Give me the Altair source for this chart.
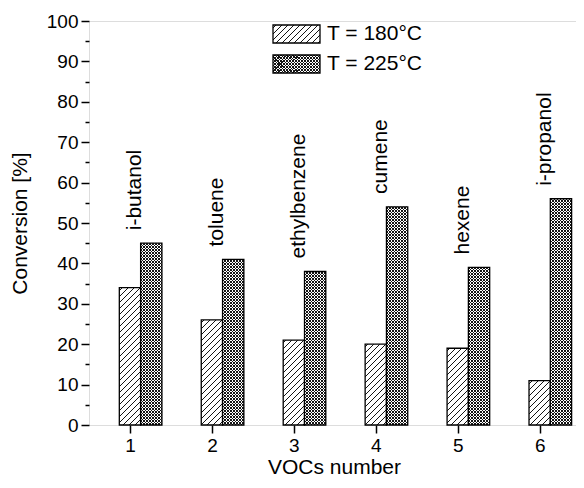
import math
import altair as alt
import pandas as pd

# ---- data ----
vocs = [1, 2, 3, 4, 5, 6]
names = ["i-butanol", "toluene", "ethylbenzene", "cumene", "hexene", "i-propanol"]
conv_180 = [34, 26, 21, 20, 19, 11]
conv_225 = [45, 41, 38, 54, 39, 56]
series_labels = ["T = 180°C", "T = 225°C"]
x_ticks = [1, 2, 3, 4, 5, 6]
y_ticks = list(range(0, 101, 5))

# ---- layout ----
W, H = 487, 404          # view size (box)
XRANGE = 490             # x scale pixel range
XMIN, XMAX = 0.5, 6.48
YMIN, YMAX = 0, 100
BW = 0.26
FONT = "Liberation Sans"
PX_X = XRANGE / (XMAX - XMIN)
PX_Y = H / (YMAX - YMIN)
INK = "#141414"
SQ2 = math.sqrt(2)
P_SINGLE = 6 / SQ2   # 6 px horizontal repeat
P_CROSS = 3 / SQ2    # 3 px horizontal repeat
LW = 1 / SQ2         # exactly one pixel per row


def hatch(w, h, period, lw, bg, direction):
    """Linear gradient with hard stops that draws 45-degree stripes."""
    k = (w + h) / (w * w + h * h)
    D = (w + h) / SQ2
    n = D / period
    f = lw / period
    stops = [{"offset": 0, "color": bg}]
    i = 0
    while True:
        s = (i + 0.5 - f / 2) / n
        e = (i + 0.5 + f / 2) / n
        if s >= 1:
            break
        e = min(e, 1.0)
        stops += [
            {"offset": round(s, 7), "color": bg},
            {"offset": round(s, 7), "color": INK},
            {"offset": round(e, 7), "color": INK},
            {"offset": round(e, 7), "color": bg},
        ]
        i += 1
    if direction == "/":
        return {"gradient": "linear", "x1": 0, "y1": 0,
                "x2": round(k * w, 7), "y2": round(k * h, 7), "stops": stops}
    return {"gradient": "linear", "x1": 0, "y1": 1,
            "x2": round(k * w, 7), "y2": round(1 - k * h, 7), "stops": stops}


rows = []
for n, name, a, b in zip(vocs, names, conv_180, conv_225):
    rows.append({"n": n, "name": name, "series": "180", "value": a, "top225": b})
    rows.append({"n": n, "name": name, "series": "225", "value": b, "top225": b})
df = pd.DataFrame(rows)

x_axis = alt.Axis(values=x_ticks, format="d", tickSize=8, tickWidth=1.5, tickColor="black",
                  labelFontSize=19, labelColor="black", labelFont=FONT, labelPadding=3,
                  titleFontSize=21, titleFont=FONT, titleFontWeight="normal", titleColor="black",
                  titlePadding=1, domain=False, grid=False)
y_axis = alt.Axis(values=y_ticks,
                  tickSize={"condition": {"test": "datum.value % 10 === 0", "value": 8}, "value": 4},
                  labelExpr="datum.value % 10 === 0 ? datum.label : ''",
                  tickWidth=1.5, tickColor="black",
                  labelFontSize=19, labelColor="black", labelFont=FONT, labelPadding=3,
                  titleFontSize=21, titleFont=FONT, titleFontWeight="normal", titleColor="black",
                  titlePadding=16, domain=False, grid=False)


def xenc(field):
    return alt.X(f"{field}:Q",
                 scale=alt.Scale(domain=[XMIN, XMAX], range=[0, XRANGE], nice=False, zero=False),
                 axis=x_axis, title="VOCs number")


def yenc(field):
    return alt.Y(f"{field}:Q", scale=alt.Scale(domain=[YMIN, YMAX], nice=False),
                 axis=y_axis, title="Conversion [%]")


base = alt.Chart(df).transform_calculate(
    x0=f"datum.n - {BW / 2} + (datum.series == '225' ? {BW} : 0)",
    x1=f"datum.n + {BW / 2} + (datum.series == '225' ? {BW} : 0)",
)

layers = []
bw_px = BW * PX_X
for n, a, b in zip(vocs, conv_180, conv_225):
    # 180 °C bar: single diagonal hatch
    g = hatch(bw_px, a * PX_Y, P_SINGLE, LW, "white", "/")
    layers.append(
        base.transform_filter(f"datum.n == {n} && datum.series == '180'")
        .mark_bar(fill=g, stroke="black", strokeWidth=1.3)
        .encode(x=xenc("x0"), x2="x1:Q", y=yenc("value"), y2=alt.datum(0))
    )
    # 225 °C bar: cross hatch (two layers)
    g1 = hatch(bw_px, b * PX_Y, P_CROSS, LW, "white", "/")
    g2 = hatch(bw_px, b * PX_Y, P_CROSS, LW, "rgba(255,255,255,0)", "\\")
    flt = f"datum.n == {n} && datum.series == '225'"
    layers.append(
        base.transform_filter(flt).mark_bar(fill=g1, strokeWidth=0)
        .encode(x=xenc("x0"), x2="x1:Q", y=yenc("value"), y2=alt.datum(0))
    )
    layers.append(
        base.transform_filter(flt).mark_bar(fill=g2, stroke="black", strokeWidth=1.3)
        .encode(x=xenc("x0"), x2="x1:Q", y=yenc("value"), y2=alt.datum(0))
    )

# compound names above the bars
labels = (
    base.transform_filter("datum.series == '225'")
    .transform_calculate(lx="datum.n + 0.06", ly="datum.top225 + 3.2")
    .mark_text(angle=270, align="left", baseline="middle", fontSize=21, font=FONT, color="black")
    .encode(x=xenc("lx"), y=yenc("ly"), text="name:N")
)
layers.append(labels)

# manual legend
leg = alt.Chart(pd.DataFrame({"t": [0]}))
sw_w, sw_h = 47, 18
layers.append(
    leg.mark_rect(fill=hatch(sw_w, sw_h, P_SINGLE, LW, "white", "/"), stroke="black", strokeWidth=1.3)
    .encode(x=alt.value(184), x2=alt.value(184 + sw_w), y=alt.value(4), y2=alt.value(4 + sw_h))
)
layers.append(
    leg.mark_rect(fill=hatch(sw_w, sw_h, P_CROSS, LW, "white", "/"), strokeWidth=0)
    .encode(x=alt.value(184), x2=alt.value(184 + sw_w), y=alt.value(34), y2=alt.value(34 + sw_h))
)
layers.append(
    leg.mark_rect(fill=hatch(sw_w, sw_h, P_CROSS, LW, "rgba(255,255,255,0)", "\\"),
                  stroke="black", strokeWidth=1.3)
    .encode(x=alt.value(184), x2=alt.value(184 + sw_w), y=alt.value(34), y2=alt.value(34 + sw_h))
)
for i, lab in enumerate(series_labels):
    layers.append(
        leg.mark_text(text=lab, align="left", baseline="middle", fontSize=21, font=FONT, color="black")
        .encode(x=alt.value(238), y=alt.value(13 + 30 * i))
    )

chart = (
    alt.layer(*layers)
    .properties(width=W, height=H, autosize=alt.AutoSizeParams(type="none"),
                padding={"left": 81, "top": 13, "right": 0, "bottom": 55})
    .configure_view(stroke="black", strokeWidth=1.5)
    .configure(font=FONT)
)

chart.save("out.html", embed_options={"renderer": "svg", "actions": False})
